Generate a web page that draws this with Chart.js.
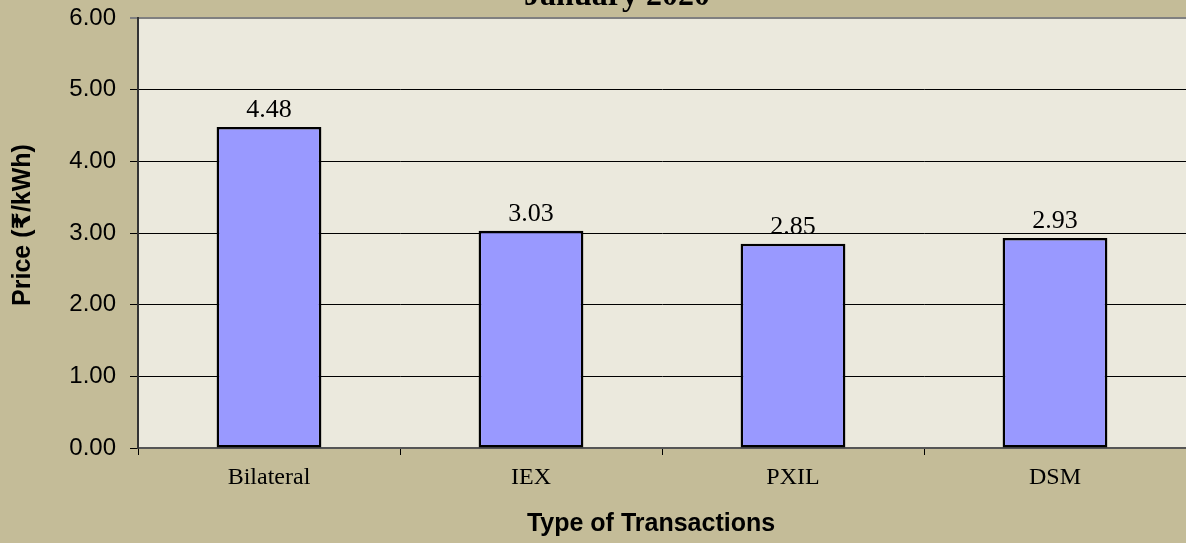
<!DOCTYPE html>
<html>
<head>
<meta charset="utf-8">
<script src="https://cdn.jsdelivr.net/npm/chart.js@4"></script>
<style>
  html, body { margin: 0; padding: 0; background: #C4BC98; }
  canvas { display: block; }
</style>
</head>
<body>
<canvas id="priceChart" width="1186" height="543"></canvas>
<script>
// chart data
const categories = ["Bilateral", "IEX", "PXIL", "DSM"];
const prices = [4.48, 3.03, 2.85, 2.93];
const chartTitle = "January 2020";
const yTitle = "Price (\u20B9/kWh)";
const xTitle = "Type of Transactions";

const SANS = "'Liberation Sans', Arial, 'DejaVu Sans', sans-serif";
const SERIF = "'Liberation Serif', 'Times New Roman', serif";

// paint the tan background and the light plot area
const backgroundPlugin = {
    id: "backgroundPlugin",
    beforeDraw(chart) {
        const { ctx, chartArea } = chart;
        ctx.save();
        ctx.fillStyle = "#C4BC98";
        ctx.fillRect(0, 0, chart.width, chart.height);
        ctx.fillStyle = "#EBE9DD";
        ctx.fillRect(chartArea.left, chartArea.top, chartArea.right - chartArea.left, chartArea.bottom - chartArea.top);
        ctx.restore();
    }
};

// titles and value labels
const textPlugin = {
    id: "textPlugin",
    afterDraw(chart) {
        const { ctx } = chart;
        ctx.save();
        ctx.fillStyle = "#000";

        // main title (cut off at the top like the original)
        ctx.font = "bold 32px " + SERIF;
        ctx.textAlign = "center";
        ctx.textBaseline = "alphabetic";
        ctx.fillText(chartTitle, 617, 5);

        // x axis title
        ctx.font = "bold 25px " + SANS;
        ctx.textBaseline = "middle";
        ctx.fillText(xTitle, 651, 524);

        // y axis title
        ctx.save();
        ctx.translate(23, 225);
        ctx.rotate(-Math.PI / 2);
        ctx.fillText(yTitle, 0, 0);
        ctx.restore();

        // value labels above bars
        ctx.font = "26px " + SERIF;
        ctx.textBaseline = "alphabetic";
        const meta = chart.getDatasetMeta(0);
        meta.data.forEach((bar, i) => {
            ctx.fillText(prices[i].toFixed(2), bar.x, bar.y - 10);
        });
        ctx.restore();
    }
};

const ctx = document.getElementById("priceChart").getContext("2d");
new Chart(ctx, {
    type: "bar",
    data: {
        labels: categories,
        datasets: [{
            data: prices,
            backgroundColor: "#9999FF",
            borderColor: "#000",
            borderWidth: 2.5,
            borderSkipped: false,
            barPercentage: 0.4,
            categoryPercentage: 1.0
        }]
    },
    options: {
        responsive: false,
        animation: false,
        layout: { padding: { top: 18, right: 0, left: 0, bottom: 0 } },
        plugins: {
            legend: { display: false },
            tooltip: { enabled: false }
        },
        scales: {
            x: {
                afterFit(scale) {
                    scale.height = 95;
                    scale.paddingLeft = 0;
                    scale.paddingRight = 0;
                },
                grid: {
                    offset: true,
                    drawOnChartArea: false,
                    tickLength: 7,
                    color: "#000"
                },
                border: { color: "#555", width: 2 },
                ticks: {
                    color: "#000",
                    padding: 8,
                    font: { family: SERIF, size: 24 }
                }
            },
            y: {
                min: 0,
                max: 6,
                afterFit(scale) {
                    scale.width = 138;
                    scale.paddingTop = 0;
                    scale.paddingBottom = 0;
                },
                grid: {
                    tickLength: 8,
                    color: (c) => (c.tick && c.tick.value === 6 ? "#808080" : "#000"),
                    lineWidth: (c) => (c.tick && c.tick.value === 6 ? 2 : 1)
                },
                border: { color: "#333", width: 2 },
                ticks: {
                    stepSize: 1,
                    color: "#000",
                    padding: 14,
                    font: { family: SANS, size: 24 },
                    callback: (v) => Number(v).toFixed(2)
                }
            }
        }
    },
    plugins: [backgroundPlugin, textPlugin]
});
</script>
</body>
</html>
